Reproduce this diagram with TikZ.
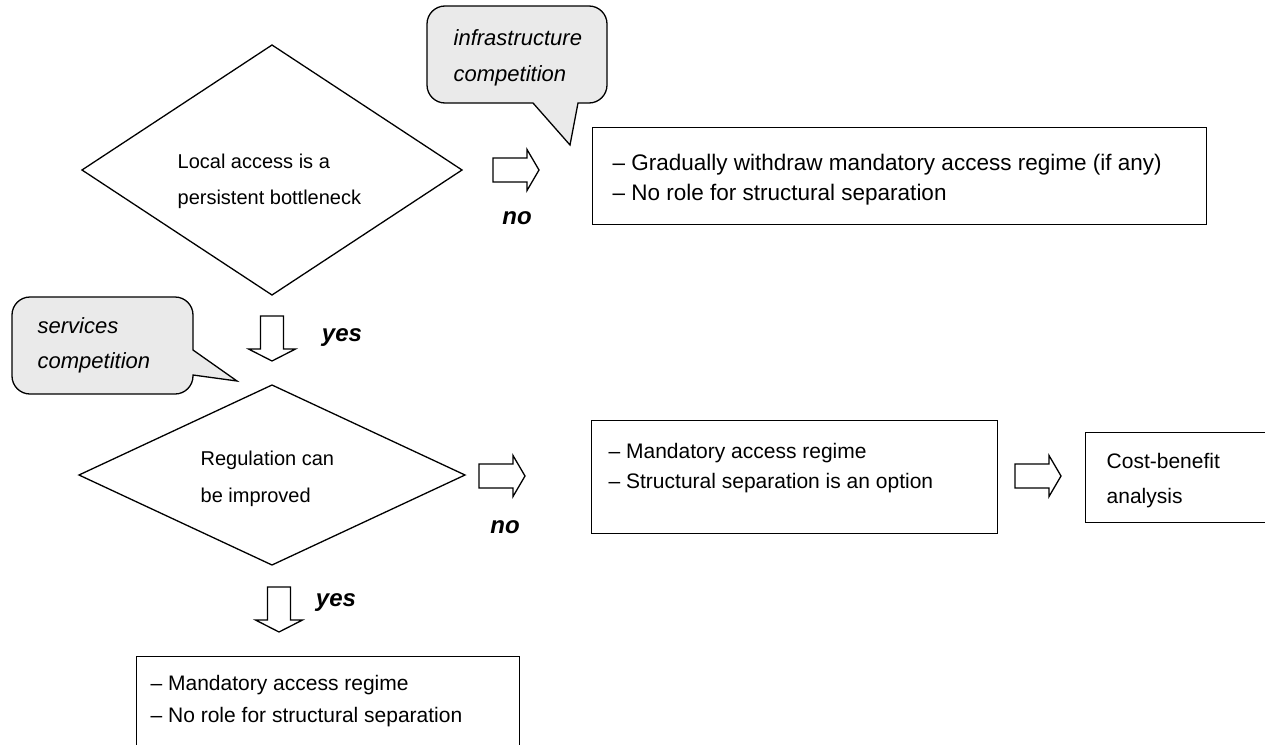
\documentclass[tikz,border=0pt]{standalone}
\usepackage{fontspec}
\setmainfont{Liberation Sans}
\definecolor{callgray}{RGB}{234,234,234}
\begin{document}
\begin{tikzpicture}[x=1pt,y=-1pt,line width=1.3pt,
  boxsty/.style={draw,line width=1.3pt,inner sep=0pt,anchor=north west},
  diasty/.style={draw,line width=1.3pt},
  callsty/.style={draw,fill=callgray,line width=1.3pt},
  arrsty/.style={draw,fill=white,line width=1.3pt,line join=miter},
  dtext/.style={font=\fontsize{20}{36}\selectfont,align=left,inner sep=0pt,anchor=west},
  btext/.style={font=\fontsize{21}{30}\selectfont,align=left,inner sep=0pt,anchor=west},
  ctext/.style={font=\fontsize{22}{36}\selectfont\itshape,align=left,inner sep=0pt,anchor=west},
  lbl/.style={font=\fontsize{24}{28}\selectfont\bfseries\itshape,inner sep=0pt},
  rarr/.pic={\draw[arrsty] (0,-12)--(34,-12)--(34,-20.5)--(46,0)--(34,20.5)--(34,12)--(0,12)--cycle;},
  darr/.pic={\draw[arrsty] (-11.5,0)--(-11.5,33)--(-23.5,33)--(0,45)--(23.5,33)--(11.5,33)--(11.5,0)--cycle;}
]
\useasboundingbox (0,0) rectangle (1265,744);
\clip (0,0) rectangle (1265,744);

% callout 1
\draw[callsty] (533,103) -- (570,145) -- (578,103) [rounded corners=18] -- (607,103) -- (607,6) -- (427,6) -- (427,103) [sharp corners] -- cycle;
\node[ctext] (c1) at (453,58) {infrastructure\\competition};

% callout 2
\draw[callsty] (193,350) -- (237,381) -- (193,375) [rounded corners=18] -- (193,394) -- (12,394) -- (12,297) -- (193,297) [sharp corners] -- cycle;
\node[ctext,font=\fontsize{22}{35}\selectfont\itshape] (c2) at (37,345.5) {services\\competition};

% diamonds
\draw[diasty] (82,170) -- (272,45) -- (462,170) -- (272,295) -- cycle;
\coordinate (d1) at (272,170);
\node[dtext] (d1t) at (177,181) {Local access is a\\persistent bottleneck};

\draw[diasty] (79,475) -- (272,385) -- (465,475) -- (272,565) -- cycle;
\coordinate (d2) at (272,475);
\node[dtext,font=\fontsize{20}{37}\selectfont] (d2t) at (200,478.5) {Regulation can\\be improved};

% block arrows and labels
\pic at (493,170) {rarr};
\node[lbl] (no1) at (517,218) {no};
\pic at (272,316) {darr};
\node[lbl] (yes1) at (342,338) {yes};
\pic at (479,476) {rarr};
\node[lbl] (no2) at (505,527) {no};
\pic at (279,587) {darr};
\node[lbl] (yes2) at (336,603) {yes};
\pic at (1015,476) {rarr};

% boxes
\node[boxsty,minimum width=614,minimum height=97] (b1) at (592,127) {};
\node[btext,font=\fontsize{22.5}{30}\selectfont] (b1t) at (612,180) {-- Gradually withdraw mandatory access regime (if any)\\-- No role for structural separation};

\node[boxsty,minimum width=406,minimum height=113] (b2) at (591,420) {};
\node[btext] (b2t) at (608,468) {-- Mandatory access regime\\-- Structural separation is an option};

\node[boxsty,minimum width=190,minimum height=90] (b3) at (1085,432) {};
\node[btext,font=\fontsize{21}{35}\selectfont] (b3t) at (1106,480.5) {Cost-benefit\\analysis};

\node[boxsty,minimum width=383,minimum height=110] (b4) at (136,656) {};
\node[btext,font=\fontsize{21}{32}\selectfont] (b4t) at (150,701) {-- Mandatory access regime\\-- No role for structural separation};
\end{tikzpicture}
\end{document}
